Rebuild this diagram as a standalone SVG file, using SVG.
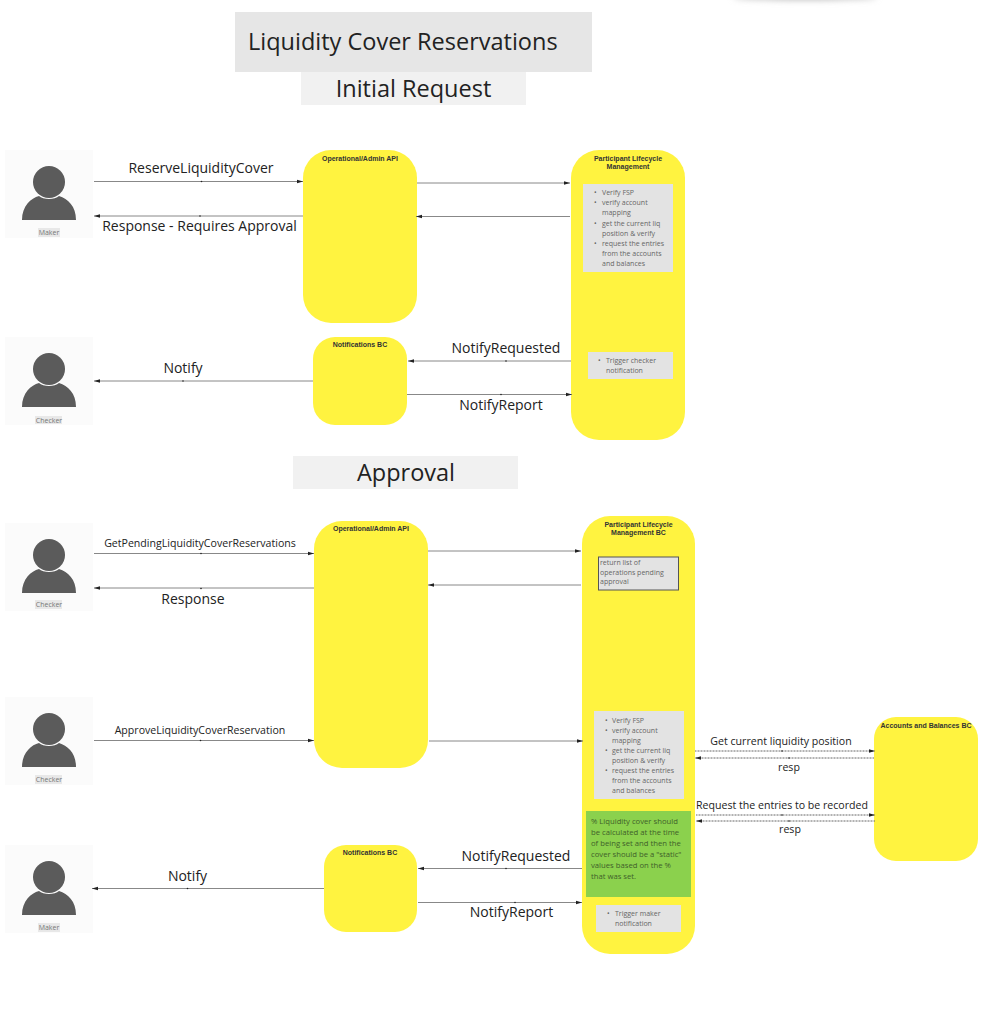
<svg xmlns="http://www.w3.org/2000/svg" xmlns:xlink="http://www.w3.org/1999/xlink" width="994" height="1019" viewBox="0 0 994 1019">
<style>
text{font-family:"Open Sans","Noto Sans","Liberation Sans",sans-serif;fill:#222}
.bc{fill:#fff340}
.t{font-family:"Liberation Sans",Arial,sans-serif;font-weight:bold;font-size:7px;fill:#333;text-anchor:middle}
.note{fill:#e3e3e3}
.n{font-size:7px;fill:#666}
.g{font-size:7.7px;fill:#3f5f2a}
.l{font-size:14px;text-anchor:middle}
.l2{font-size:10.6px;text-anchor:middle}
.h{font-size:23.500px;text-anchor:middle}
.c{fill:none;stroke:#888;stroke-width:1;marker-end:url(#a)}
.d{fill:none;stroke:#666;stroke-width:1;stroke-dasharray:1 .5;marker-end:url(#a)}
.m{fill:#222}
.who{font-size:7px;fill:#777;text-anchor:middle}
</style>
<defs>
<marker id="a" markerWidth="7" markerHeight="6" refX="6" refY="3" orient="auto" markerUnits="userSpaceOnUse"><path d="M0 1.200L6 3L0 4.800z" fill="#222"/></marker>
<filter id="b" x="-30%" y="-300%" width="160%" height="700%"><feGaussianBlur stdDeviation="3"/></filter>
<g id="actor">
<rect x="0" y="0" width="88" height="88" fill="#fbfbfb"/>
<path d="M17 70C17 56 26 48 34 46C38 50 50 50 54 46C63 49 71 56 71 70z" fill="#5b5b5b"/>
<circle cx="44" cy="32" r="16" fill="#5b5b5b"/>
</g>
</defs>

<ellipse cx="805" cy="-3" rx="72" ry="3" fill="#bbb" filter="url(#b)"/>

<g id="title">
<rect x="235" y="12" width="357" height="60" fill="#e6e6e6"/>
<text x="248" y="50" font-size="23.500">Liquidity Cover Reservations</text>
</g>
<g id="heading-initial">
<rect x="301" y="72" width="225" height="33" fill="#f1f1f1"/>
<text x="413.500" y="97" class="h">Initial Request</text>
</g>
<g id="heading-approval">
<rect x="293" y="456" width="225" height="33" fill="#f1f1f1"/>
<text x="406" y="481" class="h">Approval</text>
</g>

<g id="actor-maker-1"><use xlink:href="#actor" href="#actor" x="5" y="150"/><rect x="38" y="228" width="22" height="9" fill="#e8e8e8"/><text x="49" y="235" class="who">Maker</text></g>
<g id="actor-checker-1"><use xlink:href="#actor" href="#actor" x="5" y="337"/><rect x="35" y="416" width="27" height="8" fill="#e8e8e8"/><text x="49" y="423" class="who">Checker</text></g>
<g id="actor-checker-2"><use xlink:href="#actor" href="#actor" x="5" y="523"/><rect x="35" y="600" width="27" height="9" fill="#e8e8e8"/><text x="49" y="607" class="who">Checker</text></g>
<g id="actor-checker-3"><use xlink:href="#actor" href="#actor" x="5" y="697"/><rect x="35" y="775" width="27" height="9" fill="#e8e8e8"/><text x="49" y="782" class="who">Checker</text></g>
<g id="actor-maker-2"><use xlink:href="#actor" href="#actor" x="5" y="845"/><rect x="38" y="923" width="22" height="9" fill="#e8e8e8"/><text x="49" y="930" class="who">Maker</text></g>

<g id="op-api-1"><rect class="bc" x="303" y="150" width="114" height="173" rx="28"/><text class="t" x="360" y="161">Operational/Admin API</text></g>
<g id="notifications-1"><rect class="bc" x="313" y="337" width="94" height="88" rx="22"/><text class="t" x="360" y="347">Notifications BC</text></g>
<g id="participant-1">
<rect class="bc" x="571" y="150" width="114" height="290" rx="28"/>
<text class="t" x="628" y="161">Participant Lifecycle</text><text class="t" x="628" y="169">Management</text>
<rect class="note" x="583" y="184" width="90" height="88"/>
<text x="594" y="195" class="n">•</text><text x="602" y="195" class="n">Verify FSP</text>
<text x="594" y="205" class="n">•</text><text x="602" y="205" class="n">verify account</text><text x="602" y="215" class="n">mapping</text>
<text x="594" y="226" class="n">•</text><text x="602" y="226" class="n">get the current liq</text><text x="602" y="236" class="n">position &amp; verify</text>
<text x="594" y="246" class="n">•</text><text x="602" y="246" class="n">request the entries</text><text x="602" y="256" class="n">from the accounts</text><text x="602" y="266" class="n">and balances</text>
<rect class="note" x="588" y="352" width="85" height="27"/>
<text x="598" y="363" class="n">•</text><text x="606" y="363" class="n">Trigger checker</text><text x="606" y="373" class="n">notification</text>
</g>

<g id="op-api-2"><rect class="bc" x="314" y="521" width="114" height="247" rx="28"/><text class="t" x="371" y="531">Operational/Admin API</text></g>
<g id="notifications-2"><rect class="bc" x="324" y="845" width="93" height="87" rx="22"/><text class="t" x="370" y="855">Notifications BC</text></g>
<g id="accounts"><rect class="bc" x="874" y="717" width="104" height="144" rx="22"/><text class="t" x="926" y="728">Accounts and Balances BC</text></g>
<g id="participant-2">
<rect class="bc" x="582" y="516" width="113" height="438" rx="28"/>
<text class="t" x="638.500" y="527">Participant Lifecycle</text><text class="t" x="638.500" y="535">Management BC</text>
<rect class="note" x="598.500" y="557" width="80" height="33" stroke="#555"/>
<text x="600" y="565" class="n">return list of</text><text x="600" y="574.500" class="n">operations pending</text><text x="600" y="584" class="n">approval</text>
<rect class="note" x="594" y="711" width="90" height="88"/>
<text x="605" y="723" class="n">•</text><text x="612" y="723" class="n">Verify FSP</text>
<text x="605" y="733" class="n">•</text><text x="612" y="733" class="n">verify account</text><text x="612" y="743" class="n">mapping</text>
<text x="605" y="753" class="n">•</text><text x="612" y="753" class="n">get the current liq</text><text x="612" y="763" class="n">position &amp; verify</text>
<text x="605" y="773" class="n">•</text><text x="612" y="773" class="n">request the entries</text><text x="612" y="783" class="n">from the accounts</text><text x="612" y="793" class="n">and balances</text>
<rect x="586" y="811" width="105" height="86" fill="#8bd14d"/>
<text x="591" y="824" class="g">% Liquidity cover should</text><text x="591" y="835" class="g">be calculated at the time</text><text x="591" y="846" class="g">of being set and then the</text><text x="591" y="857" class="g">cover should be a "static"</text><text x="591" y="868" class="g">values based on the %</text><text x="591" y="879" class="g">that was set.</text>
<rect class="note" x="596" y="905" width="85" height="27"/>
<text x="607" y="916" class="n">•</text><text x="615" y="916" class="n">Trigger maker</text><text x="615" y="926" class="n">notification</text>
</g>

<g id="connectors">
<path class="c" d="M94 181.500H303"/><circle class="m" cx="201.500" cy="181.500" r=".8"/>
<path class="c" d="M303 216H94"/><circle class="m" cx="200" cy="216" r=".8"/>
<path class="c" d="M417 183H570"/>
<path class="c" d="M570 216.500H416"/>
<path class="c" d="M313 381H94"/><circle class="m" cx="183" cy="381" r=".8"/>
<path class="c" d="M571 361H408"/><circle class="m" cx="506" cy="361" r=".8"/>
<path class="c" d="M407 394.500H572"/><circle class="m" cx="501" cy="394.500" r=".8"/>
<path class="c" d="M94 553.500H314"/><circle class="m" cx="201" cy="553.500" r=".8"/>
<path class="c" d="M314 588H94"/><circle class="m" cx="201" cy="588.500" r=".8"/>
<path class="c" d="M428 551H581"/>
<path class="c" d="M581 585H428"/>
<path class="c" d="M94 740.500H314"/><circle class="m" cx="200.500" cy="740.500" r=".8"/>
<path class="c" d="M429 741H583"/>
<path class="c" d="M324 888.500H92"/><circle class="m" cx="187.500" cy="888.500" r=".8"/>
<path class="c" d="M582 868.500H418"/><circle class="m" cx="506" cy="868.500" r=".8"/>
<path class="c" d="M418 902.500H582"/><circle class="m" cx="515" cy="902.500" r=".8"/>
<path class="d" d="M695 751H875"/><circle class="m" cx="782" cy="751" r=".8"/>
<path class="d" d="M874 758H695"/><circle class="m" cx="789" cy="758" r=".8"/>
<path class="d" d="M696 815H875"/><circle class="m" cx="782" cy="815" r=".8"/>
<path class="d" d="M875 821H696"/><circle class="m" cx="789" cy="821" r=".8"/>
</g>

<g id="connector-labels">
<text x="201" y="173" class="l">ReserveLiquidityCover</text>
<text x="199.500" y="231" class="l">Response - Requires Approval</text>
<text x="183" y="373" class="l">Notify</text>
<text x="506" y="353" class="l">NotifyRequested</text>
<text x="501" y="410" class="l">NotifyReport</text>
<text x="200" y="547" class="l2">GetPendingLiquidityCoverReservations</text>
<text x="193" y="604" class="l">Response</text>
<text x="200" y="734" class="l2">ApproveLiquidityCoverReservation</text>
<text x="187.500" y="881" class="l">Notify</text>
<text x="516" y="861" class="l">NotifyRequested</text>
<text x="511.500" y="917" class="l">NotifyReport</text>
<text x="781" y="745" class="l2">Get current liquidity position</text>
<text x="789" y="771" class="l2">resp</text>
<text x="782" y="809" class="l2">Request the entries to be recorded</text>
<text x="790" y="833" class="l2">resp</text>
</g>
</svg>
